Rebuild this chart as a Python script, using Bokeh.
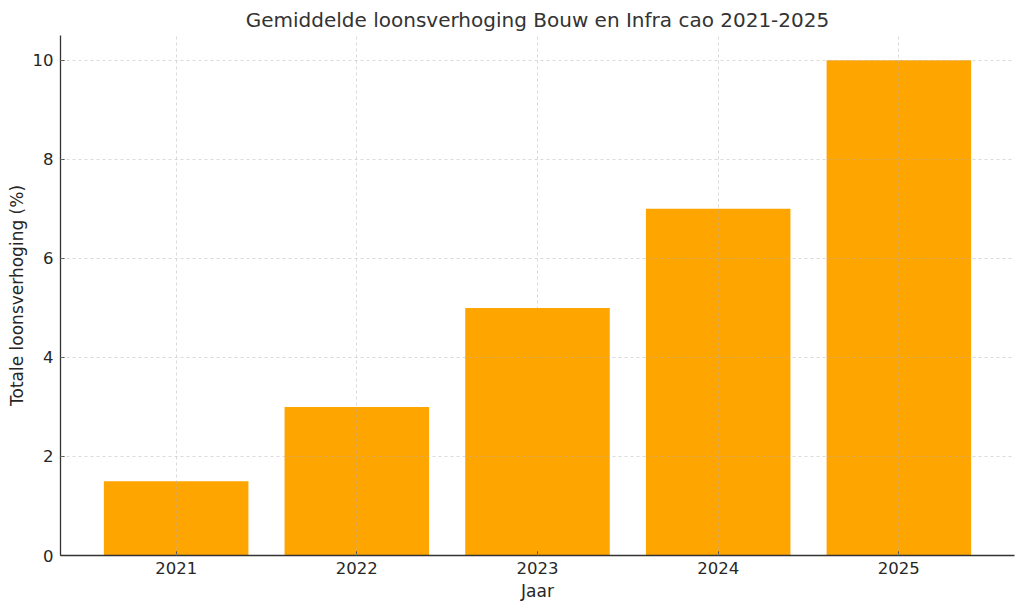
from bokeh.plotting import figure
from bokeh.models import Range1d, FixedTicker, ColumnDataSource
from bokeh.embed import file_html
from bokeh.resources import INLINE

years = ["2021", "2022", "2023", "2024", "2025"]
increase = [1.5, 3.0, 5.0, 7.0, 10.0]

pos = list(range(len(years)))
source = ColumnDataSource(data=dict(x=pos, top=increase, year=years))

p = figure(width=1024, height=611,
           title="Gemiddelde loonsverhoging Bouw en Infra cao 2021-2025",
           x_range=Range1d(-0.64, len(years) - 1 + 0.64),
           y_range=Range1d(0, 10.5),
           output_backend="svg", toolbar_location=None,
           min_border_left=60, min_border_right=10,
           min_border_top=35, min_border_bottom=56)

p.vbar(x="x", top="top", width=0.8, bottom=0, source=source,
       fill_color="#FFA500", line_color=None)

font = "DejaVu Sans"
text_col = "#262626"

p.title.align = "center"
p.title.text_font = font
p.title.text_font_style = "normal"
p.title.text_font_size = "20px"
p.title.text_color = "#333333"
p.title.standoff = 8

p.outline_line_color = None

p.xaxis.ticker = FixedTicker(ticks=pos)
p.xaxis.major_label_overrides = {i: y for i, y in enumerate(years)}
p.yaxis.ticker = FixedTicker(ticks=[0, 2, 4, 6, 8, 10])

p.xaxis.axis_label = "Jaar"
p.yaxis.axis_label = "Totale loonsverhoging (%)"

for ax in (p.xaxis, p.yaxis):
    ax.axis_line_color = "#333333"
    ax.axis_line_width = 1.3
    ax.major_tick_in = 4
    ax.major_tick_out = 0
    ax.major_tick_line_color = "#333333"
    ax.minor_tick_line_color = None
    ax.major_label_text_font = font
    ax.major_label_text_font_size = "16.5px"
    ax.major_label_text_color = text_col
    ax.axis_label_text_font = font
    ax.axis_label_text_font_size = "17px"
    ax.axis_label_text_font_style = "normal"
    ax.axis_label_text_color = text_col

p.xaxis.major_label_standoff = 6
p.yaxis.major_label_standoff = 7
p.xaxis.axis_label_standoff = 4
p.yaxis.axis_label_standoff = 3

# grid above bars, like the matplotlib reference
for g in (p.xgrid, p.ygrid):
    g.grid_line_color = "#b0b0b0"
    g.grid_line_alpha = 0.6
    g.grid_line_dash = "3 3"
    g.grid_line_width = 0.8
    g.level = "overlay"

open("out.html", "w").write(file_html(p, INLINE))
